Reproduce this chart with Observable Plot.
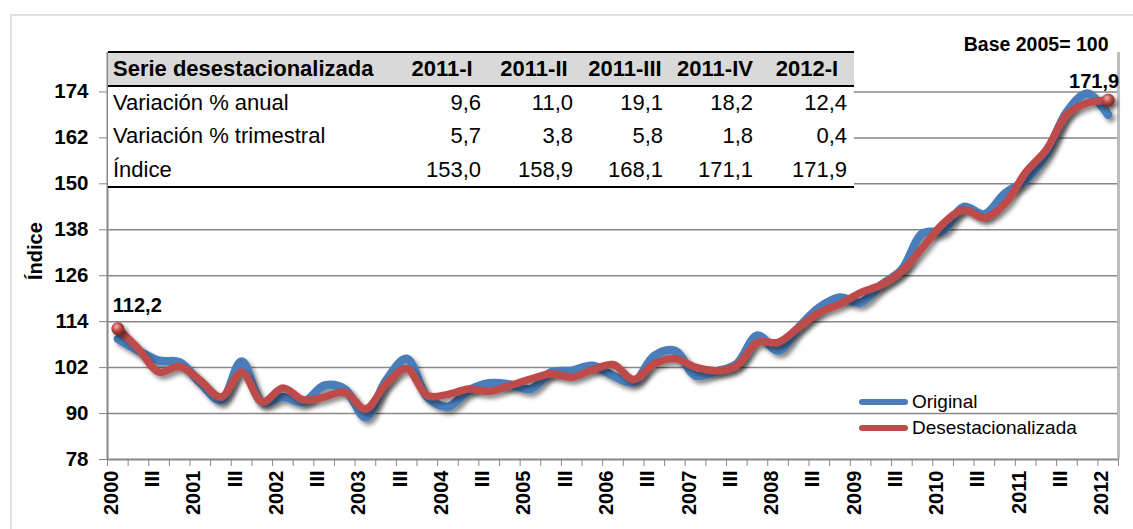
<!DOCTYPE html>
<html><head><meta charset="utf-8">
<script src="https://cdn.jsdelivr.net/npm/d3@7"></script>
<script src="https://cdn.jsdelivr.net/npm/@observablehq/plot@0.6"></script>
<style>
*{box-sizing:border-box;}
body{margin:0;background:#fff;font-family:"Liberation Sans",Arial,sans-serif;}
#wrap{position:relative;width:1133px;height:529px;overflow:hidden;background:#fff;}
#frame{position:absolute;left:10px;top:14px;width:1140px;height:540px;border-left:2px solid #e0e0e0;border-top:2px solid #e0e0e0;}
#chart{position:absolute;left:0;top:0;}
#tbl{position:absolute;left:108px;top:51px;width:746px;border-top:2.5px solid #000;border-bottom:2.5px solid #000;background:#fff;display:grid;grid-template-columns:288px 92px 92px 90px 90px 94px;grid-template-rows:33.5px 33.3px 33.3px 33.3px;font-size:22px;color:#000;}
.c{display:flex;align-items:center;white-space:nowrap;}
.h{background:#d9d9d9;font-weight:bold;justify-content:center;border-bottom:2px solid #000;}
.lab{justify-content:flex-start;padding-left:5px;}
.v{justify-content:flex-end;padding-right:7px;}
.leg{position:absolute;left:859px;display:flex;align-items:center;font-size:19px;color:#000;height:22px;}
.sw{width:49px;height:6px;border-radius:3px;margin-right:4px;}
</style>
</head><body>
<div id="wrap"><div id="frame"></div><div id="chart"></div><div id="tbl"></div>
<div class="leg" id="leg1" style="top:391px"></div>
<div class="leg" id="leg2" style="top:417px"></div>
</div>
<script>
// ---- data ----
const xLabels = ["2000","III","2001","III","2002","III","2003","III","2004","III","2005","III","2006","III","2007","III","2008","III","2009","III","2010","III","2011","III","2012"];
const original = [109.5,106.4,103.8,103.4,98.0,93.4,103.6,93.0,94.3,93.0,97.3,96.4,89.0,98.6,104.3,94.3,91.8,96.0,97.9,97.6,96.4,100.8,101.2,102.5,99.9,98.2,105.1,106.4,99.9,101.0,103.0,110.4,106.4,112.5,117.7,120.3,119.0,123.6,127.6,137.0,137.8,144.0,142.0,147.5,151.0,157.8,168.8,173.6,168.0];
const desest = [112.2,106.9,100.8,102.3,98.6,94.3,100.8,93.0,96.7,93.6,94.3,95.6,91.2,97.7,101.7,94.7,95.0,96.4,95.8,97.3,99.0,100.4,99.5,101.4,102.8,98.9,103.0,104.3,102.1,101.2,102.5,108.6,108.6,112.5,116.4,118.6,121.6,123.6,127.2,133.3,139.6,143.2,141.1,144.8,153.0,158.9,168.1,171.1,171.9];
const yTicks = [78,90,102,114,126,138,150,162,174];
const seriesNames = ["Original","Desestacionalizada"];
const seriesColors = ["#4A7EBB","#BE4B48"];
const baseNote = "Base 2005= 100";
const yTitle = "Índice";
// table
const tableTitle = "Serie desestacionalizada";
const tableCols = ["2011-I","2011-II","2011-III","2011-IV","2012-I"];
const rowLabels = ["Variación % anual","Variación % trimestral","Índice"];
const varAnual = [9.6,11.0,19.1,18.2,12.4];
const varTrim = [5.7,3.8,5.8,1.8,0.4];
const indice = [153.0,158.9,168.1,171.1,171.9];

const fmt = v => v.toFixed(1).replace(".", ",");
const idx = d3.range(desest.length);
const boundaries = d3.range(-0.5, desest.length, 1);
const ends = [0, desest.length - 1];
const gridTicks = yTicks.slice(1);

const svg = Plot.plot({
  width: 1133, height: 529,
  marginLeft: 107, marginRight: 15, marginTop: 52, marginBottom: 70,
  style: {fontFamily: "'Liberation Sans', Arial, sans-serif", background: "transparent", color: "#000"},
  x: {type: "linear", domain: [-0.5, desest.length - 0.5], axis: null},
  y: {domain: [78, 184.3], axis: null},
  marks: [
    Plot.gridY(gridTicks, {stroke: "#878787", strokeOpacity: 1, strokeWidth: 1.5}),
    Plot.ruleY([78], {stroke: "#878787", strokeWidth: 2}),
    Plot.ruleX([-0.5], {stroke: "#878787", strokeWidth: 2}),
    Plot.ruleX([desest.length - 0.5], {stroke: "#bdbdbd", strokeWidth: 3}),
    Plot.axisY(yTicks, {tickSize: 8, tickPadding: 11, fontSize: 20.5, fontWeight: "bold", stroke: "#878787", fill: "#000", label: null}),
    Plot.axisX(boundaries, {tickSize: 7, tickFormat: () => "", stroke: "#878787", label: null}),
    Plot.text(xLabels, {x: (d, i) => i * 2, text: d => d, frameAnchor: "bottom", rotate: -90, textAnchor: "end", dy: 11, fontSize: 20, fontWeight: "bold", fill: "#000"}),
    Plot.text([yTitle], {text: d => d, frameAnchor: "left", dx: -72, dy: 24, rotate: -90, fontSize: 20, fontWeight: "bold", fill: "#000"}),
    Plot.text([baseNote], {text: d => d, frameAnchor: "top-right", dx: -10, dy: -15, textAnchor: "end", fontSize: 19.5, fontWeight: "bold", fill: "#000"}),
    Plot.line(idx, {x: d => d, y: d => original[d], stroke: seriesColors[0], strokeWidth: 8.5, curve: "catmull-rom", strokeLinecap: "round"}),
    Plot.line(idx, {x: d => d, y: d => desest[d], stroke: seriesColors[1], strokeWidth: 7.5, curve: "catmull-rom", strokeLinecap: "round"}),
    Plot.dot(ends, {x: d => d, y: d => desest[d], r: 6.5, fill: "url(#sphere)"}),
    Plot.text([0], {x: d => d, y: d => desest[d], text: d => fmt(desest[d]), textAnchor: "start", dx: -5, dy: -23, fontSize: 20, fontWeight: "bold", fill: "#000"}),
    Plot.text([desest.length - 1], {x: d => d, y: d => desest[d], text: d => fmt(desest[d]), textAnchor: "end", dx: 11, dy: -18, fontSize: 20, fontWeight: "bold", fill: "#000"})
  ]
});
const ns = "http://www.w3.org/2000/svg";
const defs = document.createElementNS(ns, "defs");
defs.innerHTML = `<filter id="shadow" x="-10%" y="-10%" width="130%" height="140%"><feDropShadow dx="3" dy="3.5" stdDeviation="2.2" flood-color="#000" flood-opacity="0.45"/></filter>
<radialGradient id="sphere" cx="0.4" cy="0.35" r="0.7"><stop offset="0" stop-color="#f5b0ae"/><stop offset="0.45" stop-color="#c0504d"/><stop offset="1" stop-color="#6e1f1d"/></radialGradient>`;
svg.insertBefore(defs, svg.firstChild);
svg.querySelectorAll('g[aria-label="line"], g[aria-label="dot"]').forEach(g => g.setAttribute("filter", "url(#shadow)"));
document.getElementById("chart").appendChild(svg);

// table
const tbl = document.getElementById("tbl");
const cell = (txt, cls) => { const d = document.createElement("div"); d.className = "c " + cls; d.textContent = txt; tbl.appendChild(d); };
cell(tableTitle, "h lab");
tableCols.forEach(c => cell(c, "h"));
[varAnual, varTrim, indice].forEach((row, r) => {
  cell(rowLabels[r], "lab");
  row.forEach(v => cell(fmt(v), "v"));
});
// legend
[["leg1", 0], ["leg2", 1]].forEach(([id, k]) => {
  const el = document.getElementById(id);
  el.innerHTML = `<div class="sw" style="background:${seriesColors[k]}"></div><span>${seriesNames[k]}</span>`;
});
</script>
</body></html>
